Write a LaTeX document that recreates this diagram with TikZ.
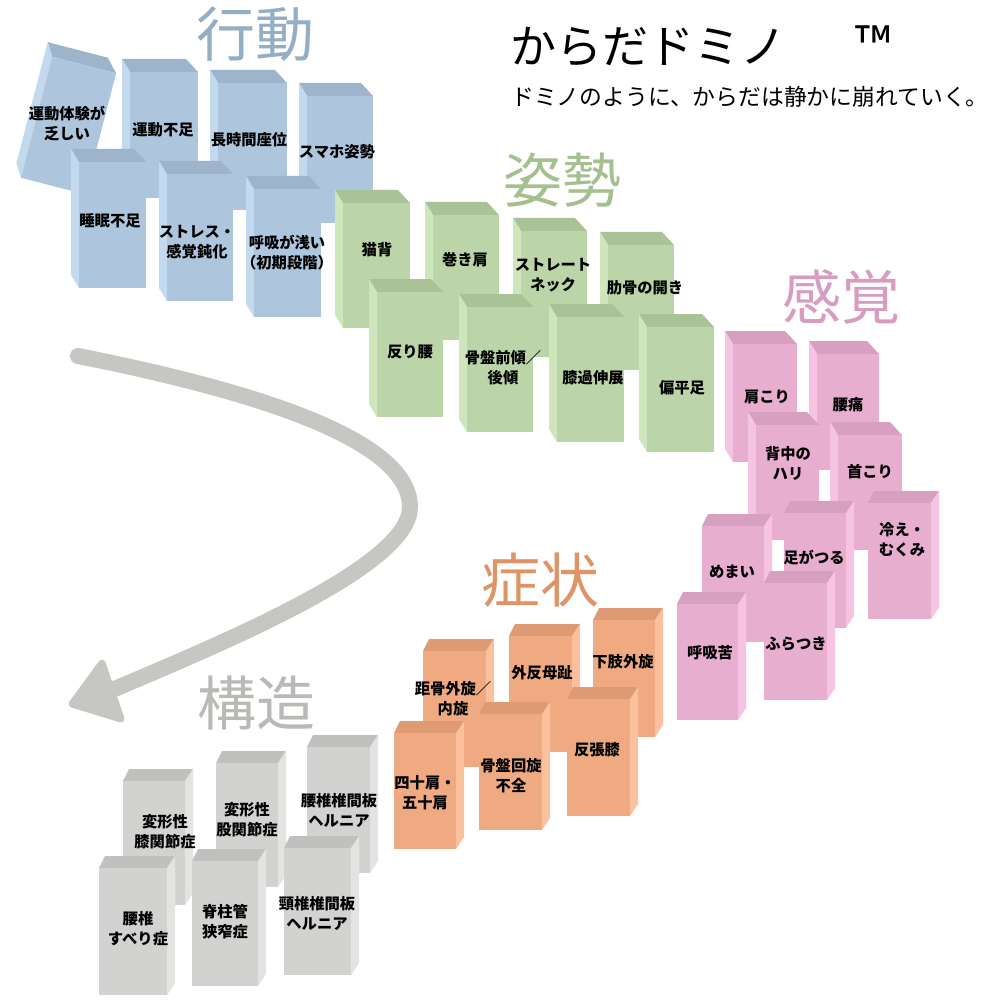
\documentclass[tikz,border=0pt]{standalone}
\usepackage{fontspec}
\setmainfont{Noto Sans CJK JP}
\definecolor{bF}{HTML}{AEC6DD}\definecolor{bT}{HTML}{9DB4CA}\definecolor{bS}{HTML}{C3DAEE}
\definecolor{gF}{HTML}{BCD5A8}\definecolor{gT}{HTML}{AAC396}\definecolor{gS}{HTML}{CFE5BC}
\definecolor{pF}{HTML}{E7AED0}\definecolor{pT}{HTML}{D7A0C1}\definecolor{pS}{HTML}{F6C3E3}
\definecolor{oF}{HTML}{EFAA82}\definecolor{oT}{HTML}{DE9A72}\definecolor{oS}{HTML}{FBC19D}
\definecolor{yF}{HTML}{D2D2D0}\definecolor{yT}{HTML}{C0C0BE}\definecolor{yS}{HTML}{E3E3E1}
\definecolor{tBlue}{HTML}{94AEC4}\definecolor{tGreen}{HTML}{A4C08E}\definecolor{tPink}{HTML}{D79CC0}
\definecolor{tOrange}{HTML}{DE9466}\definecolor{tGray}{HTML}{B9B9B5}\definecolor{arrowc}{HTML}{C6C7C2}
% box with side face on the left
\newcommand{\boxL}[5]{%
  \fill[#5T] (#1,#2) -- (#3,#2) -- ({#3-12},{#2-13}) -- ({#1-8},{#2-13}) -- cycle;
  \fill[#5S] (#1,#2) -- ({#1-8},{#2-13}) -- ({#1-8},{#4-13}) -- (#1,#4) -- cycle;
  \fill[#5F] (#1,#2) rectangle (#3,#4);}
% box with side face on the right
\newcommand{\boxR}[5]{%
  \fill[#5T] (#1,#2) -- (#3,#2) -- ({#3+8},{#2-12}) -- ({#1+6},{#2-12}) -- cycle;
  \fill[#5S] (#3,#2) -- ({#3+8},{#2-12}) -- ({#3+8},{#4-12}) -- (#3,#4) -- cycle;
  \fill[#5F] (#1,#2) rectangle (#3,#4);}
\tikzset{
  lbl/.style={align=center,inner sep=0pt,font=\bfseries\fontsize{15.3}{20}\selectfont},
  ttl/.style={inner sep=0pt,font=\fontsize{59}{59}\selectfont},
}
\begin{document}
\begin{tikzpicture}[x=1pt,y=-1pt]
\useasboundingbox (0,0) rectangle (1000,1000);
\fill[white] (0,0) rectangle (1000,1000);
% ---------- titles
\node[ttl,text=tBlue] (tKodo) at (255,34) {行動};
\node[ttl,text=tGreen] (tShisei) at (562,180) {姿勢};
\node[ttl,text=tPink] (tKankaku) at (841,297) {感覚};
\node[ttl,text=tOrange] (tShojo) at (540,580) {症状};
\node[ttl,text=tGray] (tKozo) at (256,703) {構造};
\node[inner sep=0pt,anchor=west,font=\fontsize{46}{46}\selectfont] (title) at (510,46) {からだドミノ\hspace{1.5em}{\fontsize{50}{50}\selectfont ™}};
\node[inner sep=0pt,anchor=west,font=\fontsize{22.8}{23}\selectfont] (sub) at (511,97) {ドミノのように、からだは静かに崩れていく。};
% ---------- arrow
\coordinate (aS) at (78,356);
\coordinate (aM) at (410,507);
\coordinate (aE) at (112,690);
\draw[arrowc,line width=16pt,line cap=round] (aS) .. controls (300,400) and (410,450) .. (aM) .. controls (410,565) and (230,640) .. (aE);
\fill[arrowc,draw=arrowc,line width=7pt,line join=round] (72,704) -- (102,663) -- (121,719) -- cycle;
% ---------- blue (行動)
\begin{scope}[rotate around={-14.5:(68.5,125.5)}]
\boxL{35.5}{63}{101.5}{188}{b}
\end{scope}
\boxL{130}{72}{198}{198}{b}
\boxL{218}{83}{287}{210}{b}
\boxL{307}{96}{373}{223}{b}
\node[lbl] (b1) at (67,123) {運動体験が\\乏しい};
\node[lbl] (b2) at (163,130) {運動不足};
\node[lbl] (b3) at (249,140) {長時間座位};
\node[lbl] (b4) at (337,152) {スマホ姿勢};
\boxL{79}{162}{146}{288}{b}
\boxL{167}{174}{233}{301}{b}
\boxL{254}{189}{321}{317}{b}
\node[lbl] (b5) at (110,221) {睡眠不足};
\node[lbl] (b6) at (197,242) {ストレス・\\感覚鈍化};
\node[lbl] (b7) at (287,253) {呼吸が浅い\\（初期段階）};
% ---------- green (姿勢)
\boxL{343}{203}{410}{328}{g}
\boxL{433}{215}{499}{340}{g}
\boxL{521}{231}{587}{357}{g}
\boxL{608}{245}{674}{370}{g}
\node[lbl] (g1) at (377,250) {猫背};
\node[lbl] (g2) at (465,260) {巻き肩};
\node[lbl] (g3) at (553,275) {ストレート\\ネック};
\node[lbl] (g4) at (645,288) {肋骨の開き};
\boxL{377}{292}{443}{417}{g}
\boxL{467}{307}{533}{432}{g}
\boxL{557}{317}{624}{442}{g}
\boxL{647}{327}{714}{452}{g}
\node[lbl] (g5) at (410,352) {反り腰};
\node[lbl] (g6) at (503,368) {骨盤前傾／\\後傾};
\node[lbl] (g7) at (593,378) {膝過伸展};
\node[lbl] (g8) at (682,388) {偏平足};
% ---------- pink (感覚)
\boxL{733}{344}{797}{462}{p}
\boxL{817}{354}{879}{470}{p}
\node[lbl] (p1) at (767,397) {肩こり};
\node[lbl] (p2) at (848,405) {腰痛};
\boxL{756}{425}{819}{540}{p}
\boxL{838}{435}{902}{550}{p}
\node[lbl] (p3) at (788,463) {背中の\\ハリ};
\node[lbl] (p4) at (870,472) {首こり};
\boxR{702}{526}{764}{642}{p}
\boxR{784}{513}{846}{628}{p}
\boxR{868}{503}{931}{619}{p}
\node[lbl] (p5) at (732,572) {めまい};
\node[lbl] (p6) at (814,557) {足がつる};
\node[lbl] (p7) at (902,540) {冷え・\\むくみ};
\boxR{677}{604}{738}{720}{p}
\boxR{764}{583}{827}{700}{p}
\node[lbl] (p8) at (710,653) {呼吸苦};
\node[lbl] (p9) at (796,644) {ふらつき};
% ---------- orange (症状)
\boxR{423}{651}{486}{767}{o}
\boxR{509}{636}{572}{752}{o}
\boxR{593}{620}{655}{737}{o}
\node[lbl] (o1) at (453,699) {距骨外旋／\\内旋};
\node[lbl] (o2) at (542,673) {外反母趾};
\node[lbl] (o3) at (623,662) {下肢外旋};
\boxR{394}{733}{456}{849}{o}
\boxR{479}{714}{542}{830}{o}
\boxR{567}{699}{630}{816}{o}
\node[lbl] (o4) at (425,793) {四十肩・\\五十肩};
\node[lbl] (o5) at (511,776) {骨盤回旋\\不全};
\node[lbl] (o6) at (597,750) {反張膝};
% ---------- gray (構造)
\boxR{123}{781}{185}{905}{y}
\boxR{216}{763}{278}{887}{y}
\boxR{307}{747}{370}{873}{y}
\node[lbl] (y1) at (165,832) {変形性\\膝関節症};
\node[lbl] (y2) at (247,820) {変形性\\股関節症};
\node[lbl] (y3) at (339,810) {腰椎椎間板\\ヘルニア};
\boxR{99}{868}{167}{995}{y}
\boxR{192}{861}{258}{986}{y}
\boxR{284}{848}{351}{975}{y}
\node[lbl] (y4) at (138,929) {腰椎\\すべり症};
\node[lbl] (y5) at (225,922) {脊柱管\\狭窄症};
\node[lbl] (y6) at (317,913) {頸椎椎間板\\ヘルニア};
\end{tikzpicture}
\end{document}
